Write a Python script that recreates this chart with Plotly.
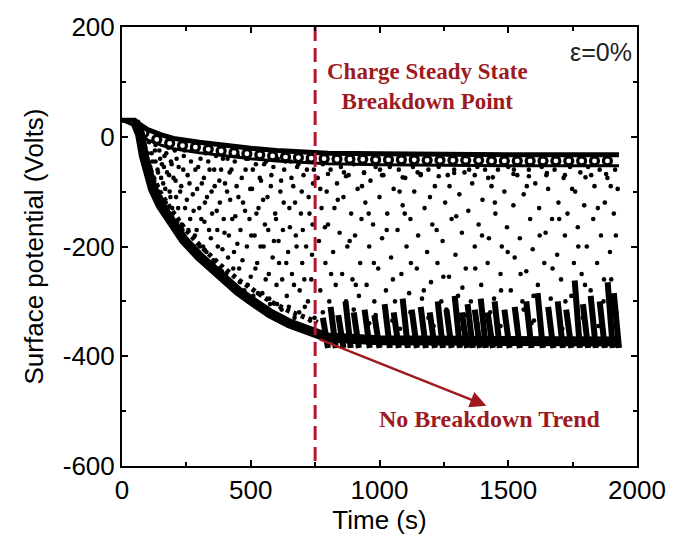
import plotly.graph_objects as go

# ---------------- data ----------------
# upper envelope of the decaying signal
up_t = [0, 50, 70, 100, 150, 200, 300, 400, 500, 600, 700, 800, 1000, 1200, 1500, 1930]
up_v = [30, 30, 22, 13, 4, -3, -10, -16, -21, -25, -28, -30, -31, -32, -33, -33]
up_in_v = [30, 20, 4, -6, -15, -22, -29, -35, -40, -44, -47, -49, -51, -52, -53, -53]

# scallop rings just under the upper envelope
ring_t = [85, 135, 185, 235, 285, 335, 385, 435, 485, 535, 585, 635, 685, 735, 785, 835,
          885, 935, 985, 1035, 1085, 1135, 1185, 1235, 1285, 1335, 1385, 1435, 1485, 1535,
          1585, 1635, 1685, 1735, 1785, 1835, 1885]
ring_v = [7, -5, -12, -16, -19, -23, -26, -29, -31, -33, -35, -37, -38, -39, -40, -41,
          -41, -41, -42, -42, -42, -42, -43, -43, -43, -43, -43, -44, -44, -44, -44, -44,
          -44, -44, -44, -44, -44]

# lower envelope
lo_t = [50, 60, 70, 85, 100, 120, 150, 190, 240, 300, 380, 450, 500, 575, 650, 760,
        800, 1000, 1300, 1930]
lo_v = [28, 20, 5, -35, -65, -95, -125, -155, -188, -218, -255, -281, -298, -322, -340,
        -360, -366, -371, -373, -373]
lo_in_t = [70, 85, 100, 120, 150, 190, 240, 300, 380, 450, 500, 575, 650, 760]
lo_in_v = [12, -20, -45, -72, -102, -132, -165, -197, -233, -260, -277, -300, -318, -338]

# fish-bone spikes along the lower band after steady state
spike_t = [790, 820, 850, 878, 910, 952, 990, 1030, 1065, 1100, 1135, 1170, 1205, 1236,
           1270, 1302, 1330, 1352, 1380, 1403, 1430, 1457, 1495, 1535, 1580, 1624, 1665,
           1702, 1735, 1768, 1800, 1830, 1865, 1896, 1920]
spike_top = [-330, -310, -325, -300, -320, -315, -325, -305, -320, -295, -315, -310, -320,
             -300, -315, -290, -320, -305, -315, -295, -320, -300, -315, -310, -300, -285,
             -310, -300, -315, -262, -305, -290, -300, -265, -285]
spike_bottom = -385

# scattered samples between the envelopes
dots_t = [
    90, 95, 105, 110, 115, 120, 130, 130, 135, 140, 145, 150, 155, 160, 165, 170, 175, 180,
    185, 190, 195, 200,
    205, 210, 215, 220, 230, 235, 240, 245, 250, 255, 265, 270, 275, 280, 285, 290, 300, 305,
    310, 315, 320, 325, 330, 340, 345, 350, 355, 360, 365, 370, 375, 380, 385, 390, 395, 400,
    405, 410, 415, 420, 425, 430, 435, 440, 445, 450, 455, 460, 470, 475, 480, 485, 490, 495,
    500, 505, 510, 515, 520, 525, 530, 540, 545, 550, 555, 560, 565, 570, 575, 580, 590, 595,
    600, 605, 610, 615, 620, 625, 630, 640, 645, 650, 655, 660, 665, 670, 675, 680, 690, 695,
    700, 705, 710, 715, 720, 725, 730, 735, 740, 745,
    760, 765, 770, 775, 780, 790, 795, 800, 805, 810, 820, 825, 830, 835, 845, 850, 855, 860,
    870, 875, 880, 890, 895, 900, 905, 915, 920, 925, 930, 940, 945, 950, 960, 965, 975, 980,
    985, 995, 1000, 1010, 1015, 1025, 1030, 1040, 1045, 1055, 1060, 1070, 1075, 1085, 1090,
    1100, 1105, 1115, 1120, 1130, 1135, 1145, 1150, 1160, 1165, 1175, 1185, 1190, 1200, 1205,
    1215, 1225, 1230, 1240, 1245, 1255, 1265, 1270, 1280, 1290, 1295, 1305, 1310, 1320, 1330,
    1335, 1345, 1355, 1360, 1370, 1380, 1385, 1395, 1400, 1410, 1420, 1425, 1435, 1445, 1450,
    1460, 1470, 1475, 1485, 1495, 1500, 1510, 1520, 1525, 1535, 1545, 1555, 1560, 1570, 1580,
    1585, 1595, 1605, 1615, 1620, 1630, 1640, 1645, 1655, 1665, 1670, 1680, 1690, 1695, 1705,
    1715, 1720, 1730, 1740, 1745, 1755, 1760, 1770, 1780, 1785, 1795, 1805, 1810, 1820, 1830,
    1835, 1845, 1855, 1860, 1870, 1875, 1885, 1895, 1900, 1910, 1915, 1925,
    780, 840, 900, 985, 1050, 1120, 1190, 1260, 1330, 1380, 1430, 1490, 1560, 1600, 1660,
    1730, 1790, 1860, 1920, 820, 960, 1080, 1210, 1320, 1470, 1590, 1710, 1850,
    800, 870, 940, 1010, 1090, 1160, 1230, 1290, 1370, 1440, 1520, 1580, 1650, 1720, 1800, 1880,
]
dots_v = [
    -20, -40, -10, -55, -30, -75, -15, -45, -90, -65, -25, -110, -50, -85, -35, -120, -65, -20,
    -100, -45, -130, -75,
    -25, -110, -155, -55, -90, -170, -35, -130, -190, -70, -150, -25, -105, -200, -60, -170,
    -130, -40, -85, -200, -155, -30, -110, -60, -185, -140, -225, -90, -35, -170, -240, -120,
    -60, -205, -150, -85,
    -250, -40, -180, -115, -60, -270, -210, -145, -90, -35, -240, -170, -120, -280, -60, -200,
    -40, -150, -255, -95, -290, -180, -50, -230, -130, -80, -285, -200, -160, -45, -110, -250,
    -305, -70, -190, -140, -270, -40, -230, -100, -315, -170, -60, -290, -210, -130, -45, -250,
    -90, -330, -180, -55, -280, -140, -230, -70, -310, -200, -45, -110, -335, -260, -160, -60,
    -75, -190, -280, -130, -50, -230, -100, -160, -300, -60, -210, -130, -270, -85, -175, -55,
    -250, -110, -300, -200, -70, -140, -260, -50, -180, -95, -290, -230, -150, -65, -120, -270,
    -200, -80, -160, -300, -55, -240, -110, -185, -70, -280, -140, -55, -220, -95, -300, -170,
    -60, -250, -125, -75, -200, -285, -150, -55, -100, -240, -180, -70, -295, -130, -210, -60,
    -265, -160, -90, -230, -55, -300, -190, -120, -70, -255, -150, -60, -215, -290, -105, -175,
    -65, -240, -135, -300, -85, -200, -55, -160, -270, -115, -60, -230, -185, -90, -295, -140,
    -60, -250, -200, -100, -165, -55, -280, -125, -220, -70, -185, -300, -105, -245, -60, -150,
    -205, -85, -270, -130, -55, -230, -175, -95, -295, -150, -60, -215, -120, -260, -75, -180,
    -140, -55, -290, -230, -100, -165, -65, -250, -125, -200, -55, -280, -150, -90, -230, -60,
    -180, -300, -120, -75, -210, -260, -140, -60, -95,
    -320, -330, -315, -325, -335, -320, -330, -315, -325, -340, -320, -330, -315, -335, -320,
    -325, -330, -315, -320, -345, -340, -350, -345, -350, -345, -340, -350, -345,
    -68, -72, -66, -70, -74, -68, -72, -66, -70, -74, -68, -72, -66, -70, -74, -68,
]

dots2_t = [
    100, 108, 118, 125, 128, 138, 142, 148, 152, 158, 163, 168, 172, 178, 183, 188, 193, 198,
    208, 212, 218, 226, 232, 238, 243, 252, 258, 262, 268, 278, 283, 292, 296, 302, 308, 318,
    322, 328, 335, 338, 348, 352, 358, 368, 372, 378, 388, 392, 398,
    408, 412, 418, 428, 432, 438, 448, 452, 458, 465, 468, 478, 482, 488, 498, 502, 508, 518,
    522, 528, 535, 538, 548, 552, 558, 568, 572, 578, 585, 588, 598, 602, 608, 618, 622, 628,
    635, 638, 648, 652, 658, 668, 672, 678, 685, 688, 698, 702, 708, 718, 722, 728, 738, 742,
    748,
    770, 788, 812, 838, 862, 884, 908, 932, 958, 978, 1002, 1028, 1052, 1078, 1098, 1122,
    1148, 1172, 1196, 1222, 1248, 1272, 1298, 1322, 1348, 1372, 1398, 1422, 1448, 1472, 1498,
    1522, 1548, 1572, 1598, 1622, 1648, 1672, 1698, 1722, 1748, 1772, 1798, 1822, 1848, 1872,
    1898, 1918,
]
dots2_v = [
    -30, -60, -45, -80, -25, -60, -100, -40, -75, -115, -55, -95, -30, -130, -70, -110, -50,
    -140,
    -80, -40, -130, -100, -160, -60, -25, -115, -170, -85, -45, -135, -180, -95, -55, -200,
    -150, -75, -120, -210, -45, -170, -100, -230, -60, -135, -200, -80, -245, -40, -175,
    -100, -220, -65, -150, -240, -45, -195, -110, -265, -75, -225, -135, -40, -270, -95, -180,
    -60, -240, -140, -285, -75, -200, -115, -50, -260, -170, -295, -90, -220, -55, -150, -305,
    -190, -80, -260, -120, -45, -230, -310, -165, -75, -270, -120, -200, -50, -320, -100,
    -170, -260, -60, -300, -140, -215, -85, -330,
    -95, -165, -250, -115, -65, -190, -270, -90, -140, -230, -60, -170, -260, -100, -140,
    -230, -65, -280, -110, -170, -255, -90, -145, -275, -60, -240, -180, -75, -120, -280,
    -210, -60, -250, -90, -290, -180, -70, -240, -150, -300, -95, -200, -270, -70, -130,
    -260, -90, -180,
]

x_ticks = [0, 500, 1000, 1500, 2000]
x_labels = ["0", "500", "1000", "1500", "2000"]
y_ticks = [-600, -400, -200, 0, 200]
y_labels = ["-600", "-400", "-200", "0", "200"]
breakdown_t = 750

RED = "#b3172a"
DARK_RED = "#9e1a1f"
SANS = "Liberation Sans, Arial, sans-serif"

fig = go.Figure()

# scattered dots
fig.add_trace(go.Scatter(x=dots_t + dots2_t, y=dots_v + dots2_v, mode="markers",
                         marker=dict(size=4.6, color="black"), hoverinfo="skip"))

# upper band
fig.add_trace(go.Scatter(x=up_t, y=up_in_v, mode="lines",
                         line=dict(color="black", width=3), hoverinfo="skip"))
fig.add_trace(go.Scatter(x=ring_t, y=ring_v, mode="markers",
                         marker=dict(symbol="circle-open", size=8, color="black",
                                     line=dict(width=3.2, color="black")), hoverinfo="skip"))
fig.add_trace(go.Scatter(x=up_t, y=up_v, mode="lines",
                         line=dict(color="black", width=5), hoverinfo="skip"))

# lower band
fig.add_trace(go.Scatter(x=lo_in_t, y=lo_in_v, mode="lines",
                         line=dict(color="black", width=5, dash="4px,4px"), hoverinfo="skip"))
fig.add_trace(go.Scatter(x=lo_t, y=lo_v, mode="lines",
                         line=dict(color="black", width=10), hoverinfo="skip"))

# spikes (built from the spike arrays)
sx, sy = [], []
for t, top in zip(spike_t, spike_top):
    sx += [t - 10, t + 10, None]
    sy += [top, spike_bottom, None]
fig.add_trace(go.Scatter(x=sx, y=sy, mode="lines",
                         line=dict(color="black", width=6), hoverinfo="skip"))

# breakdown line
fig.add_trace(go.Scatter(x=[breakdown_t, breakdown_t], y=[200, -600], mode="lines",
                         line=dict(color=RED, width=3, dash="14px,7px"), hoverinfo="skip"))

fig.add_annotation(x=1185, y=92, xref="x", yref="y", showarrow=False,
                   text="<b>Charge Steady State<br>Breakdown Point</b>",
                   font=dict(family="Liberation Serif, Times New Roman, serif", size=23,
                             color=DARK_RED), align="center")
fig.add_annotation(x=1430, y=-515, xref="x", yref="y", showarrow=False,
                   text="<b>No Breakdown Trend</b>",
                   font=dict(family="Liberation Serif, Times New Roman, serif", size=24,
                             color=DARK_RED))
fig.add_annotation(x=1415, y=-490, ax=762, ay=-368, xref="x", yref="y", axref="x", ayref="y",
                   showarrow=True, arrowhead=2, arrowsize=1.3, arrowwidth=2.5,
                   arrowcolor=DARK_RED, text="")
fig.add_annotation(x=1862, y=155, xref="x", yref="y", showarrow=False,
                   text="ε=0%", font=dict(family=SANS, size=25, color="#222"))

axis_common = dict(showline=True, linecolor="black", linewidth=2, mirror="allticks",
                   ticks="inside", ticklen=6, tickwidth=1.5, tickcolor="black",
                   showgrid=False, zeroline=False,
                   tickfont=dict(family=SANS, size=26, color="black"))

fig.update_layout(
    width=681, height=545,
    margin=dict(l=122, r=44, t=22, b=79),
    paper_bgcolor="white", plot_bgcolor="white",
    showlegend=False,
    xaxis=dict(range=[0, 2000], tickvals=x_ticks, ticktext=x_labels,
               minor=dict(dtick=250, ticks="inside", ticklen=4, tickcolor="black"),
               title=dict(text="Time (s)", standoff=4,
                          font=dict(family=SANS, size=26, color="black")),
               **axis_common),
    yaxis=dict(range=[-600, 200], tickvals=y_ticks, ticktext=y_labels,
               minor=dict(dtick=100, ticks="inside", ticklen=4, tickcolor="black"),
               title=dict(text="Surface potential (Volts)", standoff=12,
                          font=dict(family=SANS, size=26, color="black")),
               **axis_common),
)

fig.write_html("out.html")
